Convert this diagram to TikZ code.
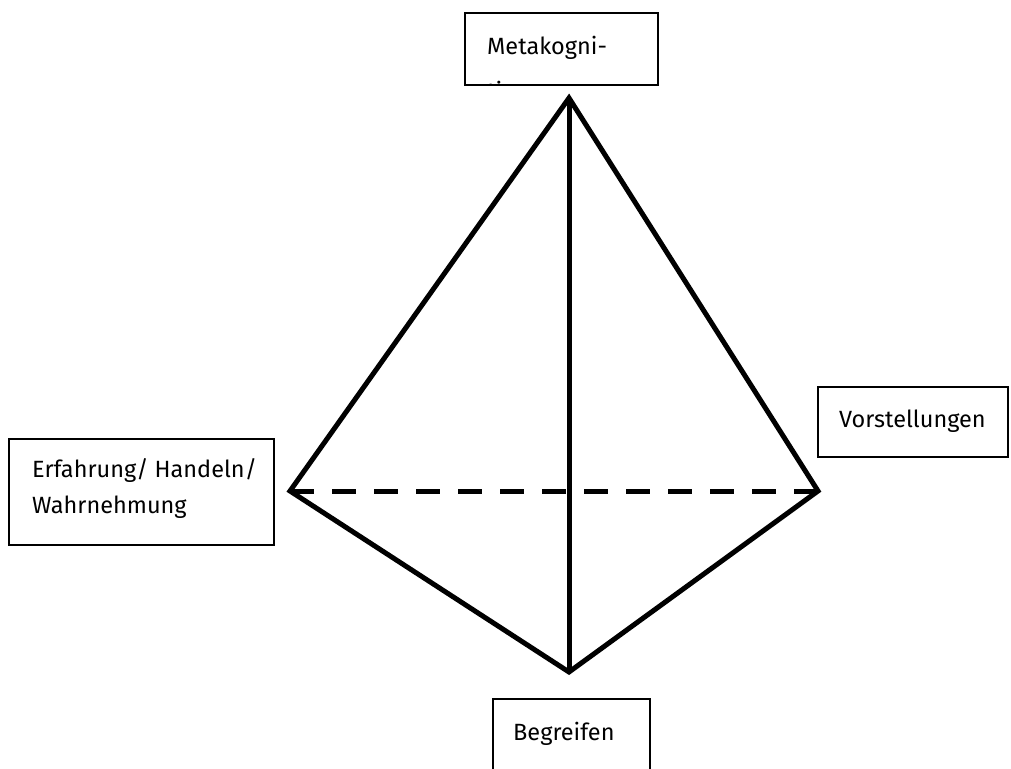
\documentclass[tikz,border=0pt]{standalone}
\usepackage{fontspec}
\setmainfont{Fira Sans}
\begin{document}
\begin{tikzpicture}[x=1pt,y=-1pt,
  box/.style={draw=black,line width=1.7pt,inner sep=0pt},
  edge/.style={line width=5pt,line join=miter,line cap=butt},
  lbl/.style={anchor=base west,inner sep=0pt,align=left,
    font=\fontsize{23.5}{36}\selectfont}]
\useasboundingbox (0,0) rectangle (1011,768);
% corners of the pyramid
\coordinate (apex) at (569,98);
\coordinate (left) at (290,491);
\coordinate (right) at (818,491);
\coordinate (bottom) at (569,672);
% boxes
\node[box,minimum width=193pt,minimum height=72pt] (top box) at (561.5,49) {};
\node[box,minimum width=265pt,minimum height=106pt] (left box) at (141.5,492) {};
\node[box,minimum width=190pt,minimum height=70pt] (right box) at (913,422) {};
\node[box,minimum width=157pt,minimum height=72pt] (bottom box) at (571.5,735) {};
% labels (the base anchor of a two-line label sits on its last line);
% the hyphenated top label runs past its box and is cut off by it
\begin{scope}
  \clip (top box.north west) rectangle (top box.south east);
  \node[lbl,font=\fontsize{23.5}{44}\selectfont] (meta) at (487,99) {Metakogni-\\tion};
\end{scope}
\node[lbl] (exp) at (32,513) {Erfahrung/ Handeln/\\Wahrnehmung};
\node[lbl] (vor) at (839,427) {Vorstellungen};
\node[lbl] (beg) at (513,740) {Begreifen};
% edges
\draw[edge] (left) -- (apex) -- (right) -- (bottom) -- cycle;
\draw[edge] (apex) -- (bottom);
\draw[edge,dash pattern=on 24pt off 18pt] (left) -- (right);
\end{tikzpicture}
\end{document}
